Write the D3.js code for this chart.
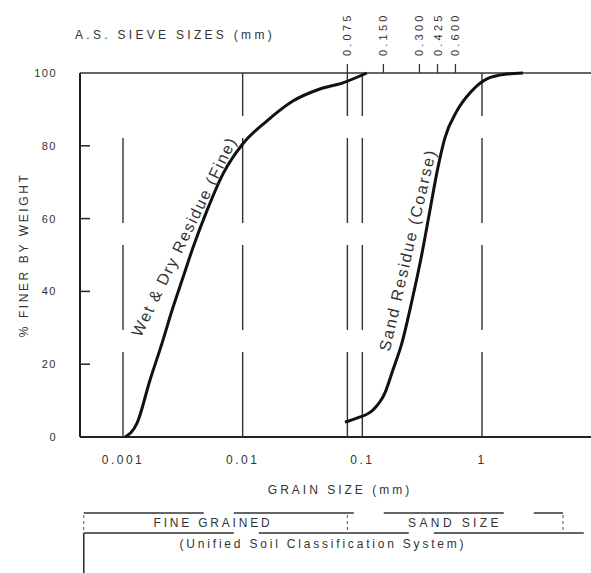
<!DOCTYPE html>
<html>
<head>
<meta charset="utf-8">
<script src="https://cdn.jsdelivr.net/npm/d3@7"></script>
<style>
  html, body { margin: 0; padding: 0; background: #fff; }
  svg { display: block; }
  text { font-family: "Liberation Sans", Arial, sans-serif; fill: #333; }
</style>
</head>
<body>
<svg id="chart" width="591" height="573"></svg>
<script>
// ---- data ----
const fineSize = [0.00104, 0.00131, 0.00168, 0.00212, 0.00257, 0.00317, 0.00384, 0.00503, 0.00685, 0.0100, 0.0159, 0.0263, 0.0442, 0.0687, 0.109];
const finePct  = [0, 3.8, 15.6, 25.8, 34.8, 43.8, 52.0, 62.2, 72.3, 80.5, 86.8, 92.3, 95.6, 97.3, 100];
const sandSize = [0.0716, 0.0902, 0.1227, 0.1545, 0.180, 0.214, 0.260, 0.315, 0.367, 0.428, 0.490, 0.617, 0.792, 1.10, 1.61, 2.20];
const sandPct  = [4.1, 5.2, 7.4, 12.1, 18.4, 25.8, 37.5, 50.4, 62.2, 74.0, 82.2, 89.6, 94.5, 98.4, 99.7, 100];
const xTicks = [0.001, 0.01, 0.1, 1];
const xTickLabels = ["0.001", "0.01", "0.1", "1"];
const gridSizes = [0.001, 0.01, 0.075, 0.1, 1];
const yTicks = [0, 20, 40, 60, 80, 100];
const sieveSizes = [0.075, 0.150, 0.300, 0.425, 0.600];
const sieveLabels = ["0.075", "0.150", "0.300", "0.425", "0.600"];
const classNames = ["FINE GRAINED", "SAND SIZE"];
const classBounds = [0.00047, 0.075, 4.75];
const curveNames = ["Wet & Dry Residue (Fine)", "Sand Residue (Coarse)"];

// ---- scales ----
const x = d3.scaleLog().domain([0.001, 1]).range([123, 482]);
const y = d3.scaleLinear().domain([0, 100]).range([437, 73]);
const xMin = x.invert(80), xMax = x.invert(591);

const svg = d3.select("#chart");

// frame lines
svg.append("line").attr("x1", x(xMin)).attr("x2", x(xMax)).attr("y1", y(0)).attr("y2", y(0))
  .attr("stroke", "#222").attr("stroke-width", 2);
svg.append("line").attr("x1", x(xMin)).attr("x2", x(xMax)).attr("y1", y(100)).attr("y2", y(100))
  .attr("stroke", "#333").attr("stroke-width", 1.6);
svg.append("line").attr("x1", x(xMin)).attr("x2", x(xMin)).attr("y1", y(0)).attr("y2", y(100))
  .attr("stroke", "#222").attr("stroke-width", 2);

// vertical grid
svg.selectAll(".grid").data(gridSizes).enter().append("line")
  .attr("x1", d => x(d)).attr("x2", d => x(d))
  .attr("y1", y(0)).attr("y2", d => d === 0.001 ? y(84) : y(100))
  .attr("stroke", "#333").attr("stroke-width", 1.4)
  .attr("stroke-dasharray", "85 22");

// y ticks (inside) and labels
svg.selectAll(".yt").data(yTicks.filter(d => d > 0 && d < 100)).enter().append("line")
  .attr("x1", x(xMin)).attr("x2", x(xMin) + 10)
  .attr("y1", d => y(d)).attr("y2", d => y(d))
  .attr("stroke", "#222").attr("stroke-width", 1.5);
svg.selectAll(".yl").data(yTicks).enter().append("text")
  .attr("x", 57).attr("y", d => y(d) + 4)
  .attr("text-anchor", "end").attr("font-size", 11).attr("letter-spacing", 1.5)
  .text(d => d);

// x tick labels
svg.selectAll(".xl").data(xTicks).enter().append("text")
  .attr("x", d => x(d)).attr("y", 464)
  .attr("text-anchor", "middle").attr("font-size", 12).attr("letter-spacing", 2.5)
  .text((d, i) => xTickLabels[i]);

// axis titles
svg.append("text").attr("x", 340).attr("y", 494).attr("text-anchor", "middle")
  .attr("font-size", 12).attr("letter-spacing", 3).text("GRAIN SIZE (mm)");
svg.append("text").attr("transform", "translate(28,255) rotate(-90)").attr("text-anchor", "middle")
  .attr("font-size", 12).attr("letter-spacing", 2.6).text("% FINER BY WEIGHT");
svg.append("text").attr("x", 75).attr("y", 39).attr("font-size", 12).attr("letter-spacing", 3.3)
  .text("A.S. SIEVE SIZES (mm)");

// sieve ticks + labels
svg.selectAll(".st").data(sieveSizes).enter().append("line")
  .attr("x1", d => x(d)).attr("x2", d => x(d))
  .attr("y1", y(100)).attr("y2", y(100) - 9)
  .attr("stroke", "#333").attr("stroke-width", 1.3);
svg.selectAll(".sl").data(sieveSizes).enter().append("text")
  .attr("transform", d => `translate(${x(d) + 4},56) rotate(-90)`)
  .attr("font-size", 11).attr("letter-spacing", 3.2)
  .text((d, i) => sieveLabels[i]);

// curves
const line = d3.line().x(d => x(d[0])).y(d => y(d[1])).curve(d3.curveMonotoneX);
const fineData = fineSize.map((s, i) => [s, finePct[i]]);
const sandData = sandSize.map((s, i) => [s, sandPct[i]]);
svg.append("path").datum(fineData).attr("d", line)
  .attr("fill", "none").attr("stroke", "#111").attr("stroke-width", 3);
svg.append("path").datum(sandData).attr("d", line)
  .attr("fill", "none").attr("stroke", "#111").attr("stroke-width", 3);

// curve labels
svg.append("text").attr("transform", "translate(189,239) rotate(-64)")
  .attr("text-anchor", "middle").attr("font-size", 16).attr("letter-spacing", 1.6)
  .attr("fill", "#111").text(curveNames[0]);
svg.append("text").attr("transform", "translate(413,251) rotate(-77)")
  .attr("text-anchor", "middle").attr("font-size", 16).attr("letter-spacing", 1.9)
  .attr("fill", "#111").text(curveNames[1]);

// classification band
const bandTop = 513, bandMid = 533, bandBot = 573;
svg.append("line").attr("x1", x(classBounds[0])).attr("x2", x(classBounds[2]))
  .attr("y1", bandTop).attr("y2", bandTop).attr("stroke", "#333").attr("stroke-width", 1.6)
  .attr("stroke-dasharray", "120 30");
svg.append("line").attr("x1", x(classBounds[0])).attr("x2", 591)
  .attr("y1", bandMid).attr("y2", bandMid).attr("stroke", "#333").attr("stroke-width", 1.6)
  .attr("stroke-dasharray", "150 25");
svg.selectAll(".cb").data(classBounds).enter().append("line")
  .attr("x1", d => x(d)).attr("x2", d => x(d))
  .attr("y1", bandTop + 2).attr("y2", bandMid - 2)
  .attr("stroke", "#555").attr("stroke-width", 1).attr("stroke-dasharray", "3 3");
svg.append("line").attr("x1", x(classBounds[0])).attr("x2", x(classBounds[0]))
  .attr("y1", bandMid).attr("y2", bandBot).attr("stroke", "#333").attr("stroke-width", 1.6);
svg.selectAll(".cn").data(classNames).enter().append("text")
  .attr("x", (d, i) => i === 0 ? 213 : 455).attr("y", 527)
  .attr("text-anchor", "middle").attr("font-size", 12).attr("letter-spacing", (d, i) => i === 0 ? 2.8 : 3.4)
  .text(d => d);
svg.append("text").attr("x", 323).attr("y", 548).attr("text-anchor", "middle")
  .attr("font-size", 12).attr("letter-spacing", 2.8).text("(Unified Soil Classification System)");
</script>
</body>
</html>
